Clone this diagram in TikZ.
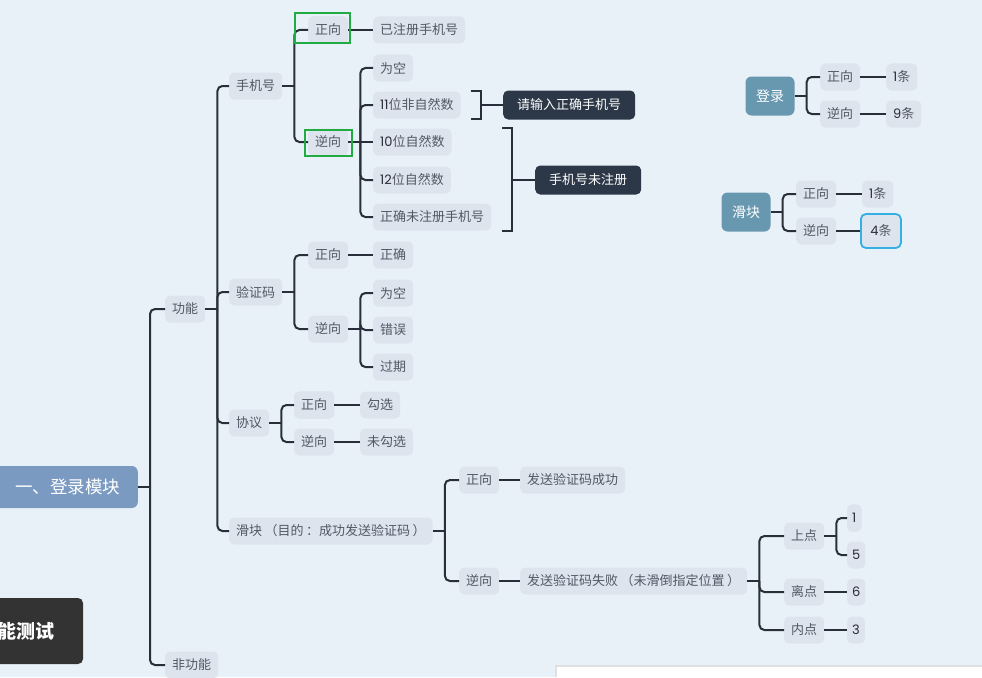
\documentclass[tikz,border=0pt]{standalone}
\usepackage{fontspec}
\setmainfont{Noto Sans CJK SC}
\newfontfamily\numfont{Poppins}
\definecolor{bgcol}{RGB}{233,241,248}
\definecolor{nodefill}{RGB}{222,228,238}
\definecolor{nodetext}{RGB}{82,88,100}
\definecolor{numtext}{RGB}{40,44,52}
\definecolor{linecol}{RGB}{40,47,58}
\definecolor{rootfill}{RGB}{122,154,194}
\definecolor{tipfill}{RGB}{44,56,72}
\definecolor{tealfill}{RGB}{104,152,175}
\definecolor{markgreen}{RGB}{32,172,66}
\definecolor{markcyan}{RGB}{52,176,226}
\definecolor{darkbox}{RGB}{51,51,51}
\newcommand\dg[1]{{\numfont\color{numtext}#1}}
\newcommand\pp{\hspace{2.5pt}}
\newcommand\twig[2]{\draw[link] ([xshift=12pt]#1.east) |- (#2.west);}
\newcommand\stub[1]{\draw[link] (#1.east) -- ([xshift=12pt]#1.east);}
\tikzset{topic/.style={fill=nodefill,rounded corners=5pt,inner xsep=7pt,inner ysep=0pt,minimum height=27pt,text=nodetext,font=\fontsize{13}{15}\selectfont,anchor=west},
tip/.style={fill=tipfill,rounded corners=5pt,inner xsep=14pt,inner ysep=0pt,minimum height=29pt,text=white,font=\fontsize{13}{15}\selectfont,anchor=west},
key/.style={fill=tealfill,rounded corners=6pt,minimum width=49pt,minimum height=39pt,inner sep=0pt,text=white,font=\fontsize{14}{16}\selectfont},
link/.style={draw=linecol,line width=2pt,rounded corners=5pt},
hilite/.style={line width=1.8pt}}

\begin{document}
\begin{tikzpicture}[x=1pt,y=-1pt]
\fill[bgcol] (0,0) rectangle (982,677);
\path[use as bounding box] (0,0) rectangle (982,677);
% root and main branches
\node[fill=rootfill,rounded corners=6pt,minimum width=143pt,minimum height=42pt,inner sep=0pt,text=white,font=\fontsize{17.5}{20}\selectfont,anchor=east] (root) at (138,487) {\hspace{3pt}一、登录模块};
\node[topic] (gn) at (165,309) {功能};
\node[topic] (fgn) at (165,665) {非功能};
\stub{root}
\twig{root}{gn}
\twig{root}{fgn}
\node[topic] (sjh) at (229,86) {手机号};
\node[topic] (yzm) at (229,292) {验证码};
\node[topic] (xy) at (229,423) {协议};
\node[topic] (hk) at (229,531) {滑块\pp（目的\pp：成功发送验证码\pp）\pp};
\stub{gn}
\foreach \c in {sjh,yzm,xy,hk} \twig{gn}{\c}
% phone number
\node[topic] (sjz) at (308,30) {正向};
\node[topic] (sjn) at (308,142) {逆向};
\stub{sjh}
\twig{sjh}{sjz}
\twig{sjh}{sjn}
\node[topic] (yzc) at (373,30) {已注册手机号};
\draw[link] (sjz.east) -- (yzc.west);
\node[topic] (wk1) at (373,68) {为空};
\node[topic] (d11) at (373,105) {\dg{11}位非自然数};
\node[topic] (d10) at (373,142) {\dg{10}位自然数};
\node[topic] (d12) at (373,180) {\dg{12}位自然数};
\node[topic] (dok) at (373,217) {正确未注册手机号};
\stub{sjn}
\foreach \c in {wk1,d11,d12,dok} \twig{sjn}{\c}
\draw[link] ([xshift=12pt]sjn.east) -- (d10.west);
\node[tip] (tip1) at (503,105) {请输入正确手机号};
\node[tip] (tip2) at (535,180) {手机号未注册};
\draw[link,rounded corners=0pt] ([xshift=10pt]d11.north east) -- ([xshift=20pt]d11.north east) -- ([xshift=20pt]d11.south east) -- ([xshift=10pt]d11.south east);
\draw[link] ([xshift=20pt]d11.east) -- (tip1.west);
\coordinate (b2t) at ([xshift=11pt]dok.east |- d10.north);
\coordinate (b2b) at ([xshift=11pt]dok.south east);
\draw[link,rounded corners=0pt] (b2t) -- ([xshift=10pt]b2t) -- ([xshift=10pt]b2b) -- (b2b);
\draw[link] ([xshift=10pt]b2t |- tip2.west) -- (tip2.west);
\draw[markgreen,hilite] (295,13) rectangle (350,43);
\draw[markgreen,hilite] (305,130) rectangle (352,156);
% verification code
\node[topic] (yzz) at (308,255) {正向};
\node[topic] (yzn) at (308,329) {逆向};
\stub{yzm}
\twig{yzm}{yzz}
\twig{yzm}{yzn}
\node[topic] (zq) at (373,255) {正确};
\draw[link] (yzz.east) -- (zq.west);
\node[topic] (wk2) at (373,293) {为空};
\node[topic] (cw) at (373,330) {错误};
\node[topic] (gq) at (373,367) {过期};
\stub{yzn}
\foreach \c in {wk2,cw,gq} \twig{yzn}{\c}
% agreement
\node[topic] (xyz) at (294,405) {正向};
\node[topic] (xyn) at (294,442) {逆向};
\stub{xy}
\twig{xy}{xyz}
\twig{xy}{xyn}
\node[topic] (gx) at (360,405) {勾选};
\node[topic] (wgx) at (360,442) {未勾选};
\draw[link] (xyz.east) -- (gx.west);
\draw[link] (xyn.east) -- (wgx.west);
% slider
\node[topic] (hkz) at (459,480) {正向};
\node[topic] (hkn) at (459,581) {逆向};
\stub{hk}
\twig{hk}{hkz}
\twig{hk}{hkn}
\node[topic] (fscg) at (520,480) {发送验证码成功};
\node[topic] (fssb) at (520,581) {发送验证码失败\pp（未滑倒指定位置\pp）\pp};
\draw[link] (hkz.east) -- (fscg.west);
\draw[link] (hkn.east) -- (fssb.west);
\node[topic] (sd) at (784,536) {上点};
\node[topic] (ld) at (784,592) {离点};
\node[topic] (nd) at (784,630) {内点};
\stub{fssb}
\foreach \c in {sd,ld,nd} \twig{fssb}{\c}
\node[topic,inner xsep=5pt] (n1) at (847,518) {\dg{1}};
\node[topic,inner xsep=5pt] (n5) at (847,555) {\dg{5}};
\node[topic,inner xsep=5pt] (n6) at (847,592) {\dg{6}};
\node[topic,inner xsep=5pt] (n3) at (847,630) {\dg{3}};
\stub{sd}
\twig{sd}{n1}
\twig{sd}{n5}
\draw[link] (ld.east) -- (n6.west);
\draw[link] (nd.east) -- (n3.west);
% counts
\node[key] (dl) at (770,96) {登录};
\node[topic] (dlz) at (820,77) {正向};
\node[topic] (dln) at (820,114) {逆向};
\stub{dl}
\twig{dl}{dlz}
\twig{dl}{dln}
\node[topic] (c1) at (886,77) {\dg{1}条};
\node[topic] (c9) at (886,114) {\dg{9}条};
\draw[link] (dlz.east) -- (c1.west);
\draw[link] (dln.east) -- (c9.west);
\node[key] (hkk) at (746,212) {滑块};
\node[topic] (hkkz) at (796,194) {正向};
\node[topic] (hkkn) at (796,231) {逆向};
\stub{hkk}
\twig{hkk}{hkkz}
\twig{hkk}{hkkn}
\node[topic] (c1b) at (862,194) {\dg{1}条};
\node[topic,draw=markcyan,line width=1.8pt,minimum width=40pt,minimum height=34pt] (c4) at (860,231) {\dg{4}条};
\draw[link] (hkkz.east) -- (c1b.west);
\draw[link] (hkkn.east) -- (c4.west);
% other panels
\fill[darkbox,rounded corners=5pt] (-10,598) rectangle (83,664);
\node[anchor=east,text=white,font=\fontsize{19}{21}\selectfont\bfseries] (xncs) at (58,631) {能测试};
\fill[black!12] (555,665) rectangle (982,677);
\fill[white] (557,667) rectangle (982,677);
\end{tikzpicture}
\end{document}
